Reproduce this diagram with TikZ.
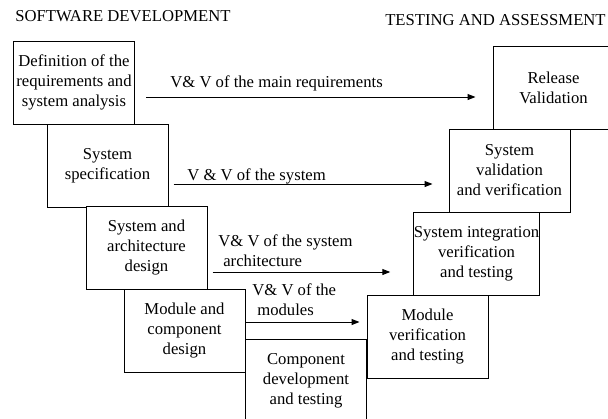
\documentclass[tikz,border=0pt]{standalone}
\usepackage{fontspec}
\setmainfont{Liberation Serif}
\usetikzlibrary{arrows.meta,positioning}

\begin{document}
\begin{tikzpicture}[x=0.6pt, y=-0.6pt]
			\tikzstyle{Stage}	= [draw, line width=0.6pt, fill=white, minimum width=72.6pt, minimum height=49.8pt, inner sep=0pt, align=center]
			\tikzstyle{Title}	= [inner sep=0pt]
			\tikzstyle{Check}	= [inner sep=0pt, align=left]
			\tikzstyle{VV}		= [-{Triangle[length=4.8pt,width=3.6pt]}, line width=0.6pt]
			
			\useasboundingbox (0,0) rectangle (608,418);
			\clip (0,0) rectangle (608,418);
			
			\node (dev) at (15, 16.5) [Title, anchor=west] {SOFTWARE DEVELOPMENT};
			\node (test) at (606, 20) [Title, anchor=east] {TESTING AND ASSESSMENT};
			
			% left branch
			\foreach \n/\x/\y/\t in {def/74/82.5/{Definition of the\\requirements and\\system analysis}, spec/107.5/165.5/{System\\specification}, arch/146.5/248/{System and\\architecture\\design}, mod/184.5/330.5/{Module and\\component\\design}, comp/306/381/{Component\\development\\and testing}}
				\node (\n) at (\x, \y) [Stage] {\t};
			% right branch
			\foreach \n/\x/\y/\t in {modver/427.5/336.5/{Module\\verification\\and testing}, sysint/476.5/253.5/{System integration\\verification\\and testing}, sysval/509.5/170.5/{System\\validation\\and verification}, rel/553.5/88/{Release\\Validation}}
				\node (\n) at (\x, \y) [Stage] {\t};
			
			\node (l1) at (170, 83) [Check, anchor=west] {V\& V of the main requirements};
			\node (l2) at (187, 176) [Check, anchor=west] {V \& V of the system};
			\node (l3) at (218, 251) [Check, anchor=west] {V\& V of the system\\\hspace{3pt}architecture};
			\node (l4) at (252, 299.5) [Check, anchor=west] {V\& V of the\\\hspace{3pt}modules};
			
			\foreach \a/\ax/\ay/\b/\bx/\by in {def/11/14.5/rel/-17/9, spec/5/18.5/sysval/-16/13.5, arch/5/24/sysint/-23/18.5, mod/0/-8.5/modver/-7/-14.5}
				\draw [VV] ([shift={(\ax,\ay)}]\a.east) -- ([shift={(\bx,\by)}]\b.west);
		\end{tikzpicture}
\end{document}
